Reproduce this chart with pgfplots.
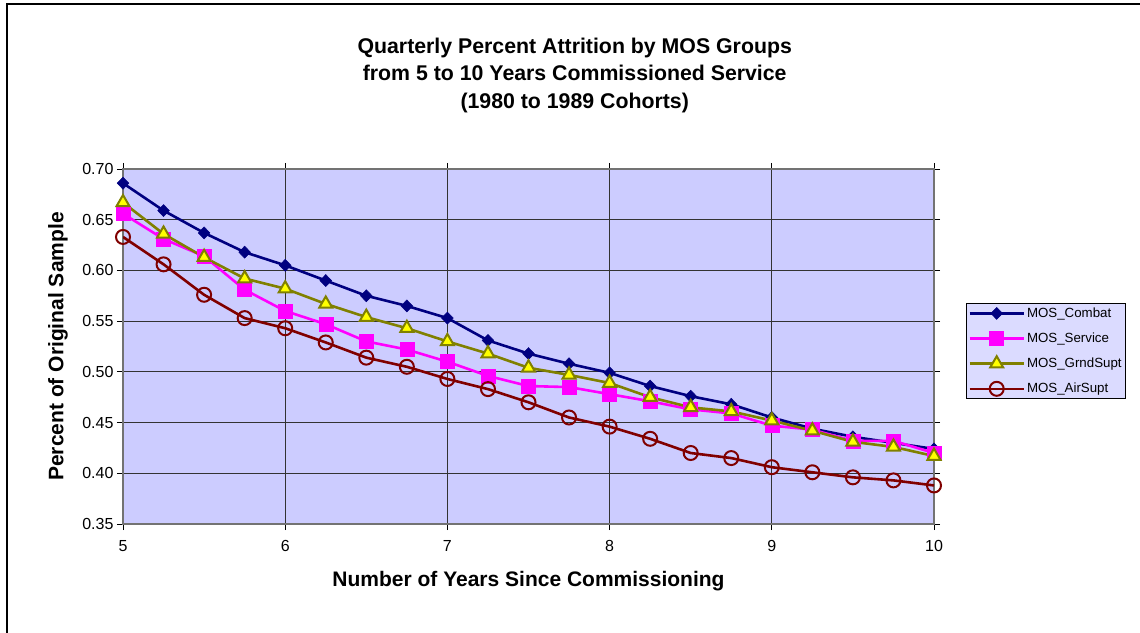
\documentclass[border=0pt]{standalone}
\usepackage{pgfplots}
\pgfplotsset{compat=1.18}
\usepackage{fontspec}
\setmainfont{Liberation Sans}
\definecolor{bgc}{HTML}{CCCCFF}
\definecolor{cnavy}{HTML}{000080}
\definecolor{cmag}{HTML}{FF00FF}
\definecolor{colive}{HTML}{808000}
\definecolor{cyel}{HTML}{FFFF00}
\definecolor{cred}{HTML}{800000}
\begin{document}
\begin{tikzpicture}[x=1pt,y=1pt]
\useasboundingbox (0,0) rectangle (1140,632);
\draw[line width=2pt] (7,-5) -- (7,627.5) -- (1145,627.5);
\begin{axis}[
  at={(123pt,108pt)}, anchor=south west,
  width=811pt, height=355pt, scale only axis,
  xmin=5, xmax=10, ymin=0.35, ymax=0.70,
  xtick={5,6,7,8,9,10},
  ytick={0.35,0.40,0.45,0.50,0.55,0.60,0.65,0.70},
  yticklabel style={/pgf/number format/.cd, fixed, fixed zerofill, precision=2},
  /pgf/number format/assume math mode=true,
  ticklabel style={font=\fontsize{16}{19}\selectfont},
  xticklabel style={yshift=-7pt},
  tick align=outside, major tick length=6pt,
  tick style={black, line width=0.8pt},
  grid=major, grid style={black!80, line width=0.8pt},
  axis background/.style={fill=bgc},
  axis line style={black!55, line width=1.6pt},
  xlabel={Number of Years Since Commissioning},
  ylabel={Percent of Original Sample},
  xlabel style={font=\fontsize{21}{25}\selectfont\bfseries, at={(axis description cs:0.5,-0.161)}, anchor=center},
  ylabel style={font=\fontsize{21}{25}\selectfont\bfseries, at={(axis description cs:-0.0801,0.5)}, anchor=center},
  title={Quarterly Percent Attrition by MOS Groups\\from 5 to 10 Years Commissioned Service\\(1980 to 1989 Cohorts)},
  title style={font=\fontsize{21.3}{27.5}\selectfont\bfseries, align=center, at={(axis description cs:0.557,1.247)}, anchor=center},
  legend style={at={(1,0.487)}, anchor=west, xshift=32pt, fill=bgc!70, draw=black, line width=0.8pt,
    font=\fontsize{13.3}{16}\selectfont, row sep=10pt, inner sep=2.5pt, inner xsep=2pt},
  legend cell align=left,
  legend image code/.code={\draw[#1,mark=none] (0pt,0pt) -- (54pt,0pt);\draw[#1] plot coordinates {(27pt,0pt)};},
]
\addplot[cnavy, line width=2.6pt, mark=diamond*, mark size=6pt, mark options={fill=cnavy, line width=0.5pt, xscale=1.3}] coordinates {
(5,0.686)(5.25,0.659)(5.5,0.637)(5.75,0.618)(6,0.605)(6.25,0.590)(6.5,0.575)(6.75,0.565)(7,0.553)(7.25,0.531)(7.5,0.518)(7.75,0.508)(8,0.499)(8.25,0.486)(8.5,0.476)(8.75,0.468)(9,0.455)(9.25,0.444)(9.5,0.436)(9.75,0.430)(10,0.424)};
\addlegendentry{MOS\_Combat}
\addplot[cmag, line width=2.6pt, mark=square*, mark size=7pt, mark options={fill=cmag, line width=0.5pt}] coordinates {
(5,0.656)(5.25,0.631)(5.5,0.614)(5.75,0.581)(6,0.560)(6.25,0.547)(6.5,0.530)(6.75,0.522)(7,0.510)(7.25,0.496)(7.5,0.486)(7.75,0.485)(8,0.478)(8.25,0.471)(8.5,0.463)(8.75,0.459)(9,0.447)(9.25,0.443)(9.5,0.432)(9.75,0.432)(10,0.420)};
\addlegendentry{MOS\_Service}
\addplot[colive, line width=2.6pt, mark=triangle*, mark size=7.5pt, mark options={fill=cyel, draw=colive, line width=2pt}] coordinates {
(5,0.667)(5.25,0.636)(5.5,0.613)(5.75,0.592)(6,0.582)(6.25,0.567)(6.5,0.554)(6.75,0.543)(7,0.530)(7.25,0.518)(7.5,0.504)(7.75,0.497)(8,0.489)(8.25,0.475)(8.5,0.465)(8.75,0.461)(9,0.452)(9.25,0.442)(9.5,0.431)(9.75,0.426)(10,0.417)};
\addlegendentry{MOS\_GrndSupt}
\addplot[cred, line width=2.6pt, mark=o, mark size=7pt, mark options={draw=cred, line width=2pt}] coordinates {
(5,0.633)(5.25,0.606)(5.5,0.576)(5.75,0.553)(6,0.543)(6.25,0.529)(6.5,0.514)(6.75,0.505)(7,0.493)(7.25,0.483)(7.5,0.470)(7.75,0.455)(8,0.446)(8.25,0.434)(8.5,0.420)(8.75,0.415)(9,0.406)(9.25,0.401)(9.5,0.396)(9.75,0.393)(10,0.388)};
\addlegendentry{MOS\_AirSupt}
\end{axis}
\end{tikzpicture}
\end{document}
